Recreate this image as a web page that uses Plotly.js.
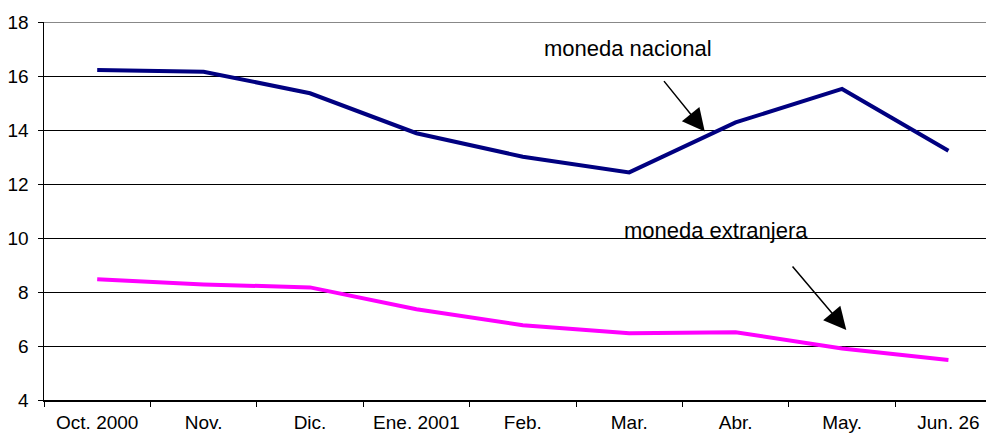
<!DOCTYPE html>
<html>
<head>
<meta charset="utf-8">
<script src="https://cdn.plot.ly/plotly-3.0.1.min.js"></script>
<style>html,body{margin:0;padding:0;background:#fff;}#chart{width:986px;height:435px;}</style>
</head>
<body>
<div id="chart"></div>
<script>
var categories = ["Oct. 2000", "Nov.", "Dic.", "Ene. 2001", "Feb.", "Mar.", "Abr.", "May.", "Jun. 26"];
var monedaNacional = [16.22, 16.16, 15.36, 13.88, 13.01, 12.43, 14.28, 15.52, 13.23];
var monedaExtranjera = [8.47, 8.28, 8.17, 7.36, 6.77, 6.47, 6.51, 5.91, 5.48];
var yTicks = [4, 6, 8, 10, 12, 14, 16, 18];

var traces = [
  {x: categories, y: monedaNacional, type: "scatter", mode: "lines", name: "moneda nacional",
   line: {color: "#000080", width: 4}},
  {x: categories, y: monedaExtranjera, type: "scatter", mode: "lines", name: "moneda extranjera",
   line: {color: "#FF00FF", width: 4}}
];

var font = {family: "Liberation Sans, Arial, sans-serif", color: "#000"};

var layout = {
  width: 986, height: 435,
  margin: {l: 44, r: 0, t: 22, b: 35},
  paper_bgcolor: "#fff", plot_bgcolor: "#fff",
  showlegend: false,
  font: font,
  xaxis: {
    type: "category", range: [-0.5, 8.353],
    tickson: "boundaries", ticks: "outside", ticklen: 5, tickwidth: 1, tickcolor: "#000",
    showgrid: false, showline: true, linecolor: "#000", linewidth: 1.5,
    tickfont: {family: font.family, size: 19, color: "#000"},
    ticklabelstandoff: 5,
    zeroline: false, fixedrange: true
  },
  yaxis: {
    range: [4, 18], tickvals: yTicks, ticktext: yTicks.map(String),
    ticks: "outside", ticklen: 5, tickwidth: 1, tickcolor: "#000",
    showgrid: true, gridcolor: "#000", gridwidth: 1,
    showline: true, linecolor: "#000", linewidth: 1.5,
    tickfont: {family: font.family, size: 19, color: "#000"},
    ticklabelstandoff: 5,
    zeroline: false, fixedrange: true
  },
  shapes: [
    {type: "line", xref: "paper", yref: "y", x0: 0, x1: 1, y0: 18, y1: 18,
     line: {color: "#888", width: 2}, layer: "above"}
  ],
  annotations: [
    {text: "moneda nacional", xref: "paper", yref: "paper", x: (542 - 44) / 942, y: (400 - 49) / 378,
     xanchor: "left", yanchor: "middle", showarrow: false, font: {family: font.family, size: 22, color: "#000"}},
    {text: "moneda extranjera", xref: "paper", yref: "paper", x: (622 - 44) / 942, y: (400 - 230) / 378,
     xanchor: "left", yanchor: "middle", showarrow: false, font: {family: font.family, size: 22, color: "#000"}},
    {text: "", xref: "x", yref: "y", x: 5.71, y: 13.94, ax: -42, ay: -52,
     showarrow: true, arrowhead: 2, arrowsize: 3, arrowwidth: 1.5, arrowcolor: "#000", standoff: 0},
    {text: "", xref: "x", yref: "y", x: 7.04, y: 6.59, ax: -55, ay: -65,
     showarrow: true, arrowhead: 2, arrowsize: 3, arrowwidth: 1.5, arrowcolor: "#000", standoff: 0}
  ]
};

Plotly.newPlot("chart", traces, layout, {displayModeBar: false, staticPlot: true});
</script>
</body>
</html>
